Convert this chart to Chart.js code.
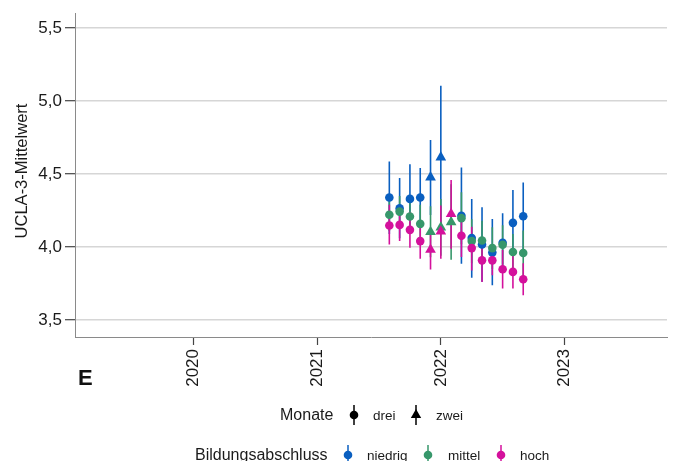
<!DOCTYPE html>
<html><head><meta charset="utf-8">
<script src="https://cdn.jsdelivr.net/npm/chart.js@4.4.1/dist/chart.umd.min.js"></script>
<style>html,body{margin:0;padding:0;background:#fff;} #wrap{width:677px;height:461px;position:relative;overflow:hidden;}</style>
</head><body><div id="wrap"><canvas id="c" width="677" height="461"></canvas></div>
<script>
// ---- data ----
const months = ['2021-08','2021-09','2021-10','2021-11','2021-12','2022-01','2022-02','2022-03','2022-04','2022-05','2022-06','2022-07','2022-08','2022-09'];
const monate = ['drei','drei','drei','drei','zwei','zwei','zwei','drei','drei','drei','drei','drei','drei','drei'];
const niedrigMean = [4.34, 4.265, 4.33, 4.34, 4.478, 4.615, null, 4.215, 4.062, 4.018, 3.962, 4.03, 4.166, 4.211];
const niedrigLow  = [4.09, 4.06, 4.09, 4.14, 4.22, 4.13, null, 3.886, 3.79, 3.762, 3.739, 3.83, 3.94, 3.98];
const niedrigHigh = [4.586, 4.473, 4.568, 4.541, 4.734, 5.105, null, 4.545, 4.33, 4.273, 4.193, 4.232, 4.391, 4.443];
const mittelMean  = [4.221, 4.243, 4.209, 4.159, 4.104, 4.134, 4.17, 4.198, 4.041, 4.045, 3.993, 4.016, 3.966, 3.959];
const mittelLow   = [4.11, 4.13, 4.09, 4.03, 3.93, 3.94, 3.914, 4.02, 3.89, 3.91, 3.85, 3.88, 3.84, 3.80];
const mittelHigh  = [4.33, 4.35, 4.33, 4.29, 4.28, 4.33, 4.43, 4.375, 4.19, 4.18, 4.136, 4.15, 4.09, 4.114];
const hochMean    = [4.148, 4.152, 4.118, 4.041, 3.982, 4.107, 4.227, 4.077, 3.993, 3.909, 3.909, 3.848, 3.83, 3.78];
const hochLow     = [4.018, 4.041, 3.995, 3.92, 3.846, 3.92, 3.989, 3.932, 3.84, 3.761, 3.807, 3.716, 3.716, 3.67];
const hochHigh    = [4.29, 4.26, 4.24, 4.16, 4.12, 4.284, 4.459, 4.22, 4.14, 4.05, 4.01, 3.98, 3.94, 3.89];
const groups = ['niedrig','mittel','hoch'];
const groupColors = ['#0a5fc0','#37976b','#d4119c'];
const yTicks = [3.5, 4.0, 4.5, 5.0, 5.5];
const xTicks = [2020, 2021, 2022, 2023];
const yTitle = 'UCLA-3-Mittelwert';
const panelLabel = 'E';
const legend1Title = 'Monate';
const legend2Title = 'Bildungsabschluss';

// ---- build ----
const FONT = '"Liberation Sans", Arial, sans-serif';
function toYear(m){ const [y, mo] = m.split('-').map(Number); return y + (mo - 1) / 12; }
const xs = months.map(toYear);
const means = [niedrigMean, mittelMean, hochMean];
const lows = [niedrigLow, mittelLow, hochLow];
const highs = [niedrigHigh, mittelHigh, hochHigh];

const datasets = groups.map((g, gi) => {
  const pts = [], styles = [], radii = [];
  xs.forEach((x, i) => {
    if (means[gi][i] == null) return;
    pts.push({x, y: means[gi][i]});
    const tri = monate[i] === 'zwei';
    styles.push(tri ? 'triangle' : 'circle');
    radii.push(tri ? 6.2 : 4.3);
  });
  return {
    label: g, data: pts, order: 3 - gi,
    backgroundColor: groupColors[gi], borderColor: groupColors[gi], borderWidth: 0,
    pointStyle: styles, pointRadius: radii, pointHoverRadius: radii
  };
});

const errorBars = {
  id: 'errorBars',
  beforeDatasetsDraw(chart) {
    const {ctx, scales: {x, y}, chartArea} = chart;
    ctx.save();
    ctx.beginPath(); ctx.rect(chartArea.left, chartArea.top, chartArea.width, chartArea.height); ctx.clip();
    ctx.lineWidth = 1.6;
    groups.forEach((g, gi) => {
      ctx.strokeStyle = groupColors[gi];
      xs.forEach((xv, i) => {
        if (means[gi][i] == null) return;
        const px = x.getPixelForValue(xv);
        ctx.beginPath();
        ctx.moveTo(px, y.getPixelForValue(lows[gi][i]));
        ctx.lineTo(px, y.getPixelForValue(highs[gi][i]));
        ctx.stroke();
      });
    });
    ctx.restore();
  }
};

function glyph(ctx, x, yc, color, shape) {
  ctx.save();
  ctx.strokeStyle = color; ctx.fillStyle = color; ctx.lineWidth = 1.5;
  ctx.beginPath(); ctx.moveTo(x, yc - 10); ctx.lineTo(x, yc + 10); ctx.stroke();
  ctx.beginPath();
  if (shape === 'triangle') {
    const r = 6;
    ctx.moveTo(x, yc - r); ctx.lineTo(x + r * 0.866, yc + r * 0.5); ctx.lineTo(x - r * 0.866, yc + r * 0.5); ctx.closePath();
  } else {
    ctx.arc(x, yc, 4.3, 0, Math.PI * 2);
  }
  ctx.fill();
  ctx.restore();
}

const decorations = {
  id: 'decorations',
  afterDraw(chart) {
    const ctx = chart.ctx;
    ctx.save();
    // y title
    ctx.fillStyle = '#1a1a1a';
    ctx.font = '16.5px ' + FONT;
    ctx.translate(22, 171);
    ctx.rotate(-Math.PI / 2);
    ctx.textAlign = 'center'; ctx.textBaseline = 'middle';
    ctx.fillText(yTitle, 0, 0);
    ctx.restore();

    ctx.save();
    ctx.fillStyle = '#111';
    ctx.font = 'bold 22px ' + FONT;
    ctx.textBaseline = 'middle'; ctx.textAlign = 'left';
    ctx.fillText(panelLabel, 78, 379);

    // legend row 1
    ctx.font = '16px ' + FONT; ctx.fillStyle = '#1a1a1a';
    ctx.fillText(legend1Title, 280, 416);
    ctx.font = '13.5px ' + FONT;
    glyph(ctx, 354, 415, '#000', 'circle');
    ctx.fillText('drei', 373, 416);
    glyph(ctx, 416, 415, '#000', 'triangle');
    ctx.fillText('zwei', 436, 416);

    // legend row 2
    ctx.font = '16px ' + FONT;
    ctx.fillText(legend2Title, 195, 456);
    const lx = [348, 428, 501], tx = [367, 448, 520];
    ctx.font = '13.5px ' + FONT;
    groups.forEach((g, gi) => {
      glyph(ctx, lx[gi], 455, groupColors[gi], 'circle');
      ctx.fillStyle = '#1a1a1a';
      ctx.fillText(g, tx[gi], 456);
    });
    ctx.restore();
  }
};

new Chart(document.getElementById('c'), {
  type: 'scatter',
  data: { datasets },
  options: {
    responsive: false, animation: false, devicePixelRatio: 1,
    layout: { padding: { top: 13, right: 10, left: 0, bottom: 0 } },
    plugins: { legend: { display: false }, tooltip: { enabled: false } },
    scales: {
      x: {
        type: 'linear', min: 2019.04, max: 2023.83,
        afterBuildTicks: s => { s.ticks = xTicks.map(v => ({value: v})); },
        afterFit: s => { s.height = 124; },
        grid: { drawOnChartArea: false, drawTicks: true, tickLength: 8, tickColor: '#444', tickWidth: 1.2 },
        border: { display: true, color: '#8a8a8a', width: 1 },
        ticks: { minRotation: 90, maxRotation: 90, padding: 4, color: '#1a1a1a', font: { family: FONT, size: 17 },
                 callback: v => String(v), autoSkip: false }
      },
      y: {
        type: 'linear', min: 3.384, max: 5.602,
        afterBuildTicks: s => { s.ticks = yTicks.map(v => ({value: v})); },
        afterFit: s => { s.width = 75; },
        grid: { color: '#d6d6d6', lineWidth: 1.4, drawTicks: true, tickLength: 10, tickColor: '#444', tickWidth: 1.2 },
        border: { display: true, color: '#8a8a8a', width: 1 },
        ticks: { padding: 3, color: '#1a1a1a', font: { family: FONT, size: 17 },
                 callback: v => v.toFixed(1).replace('.', ',') }
      }
    }
  },
  plugins: [errorBars, decorations]
});
</script></body></html>
